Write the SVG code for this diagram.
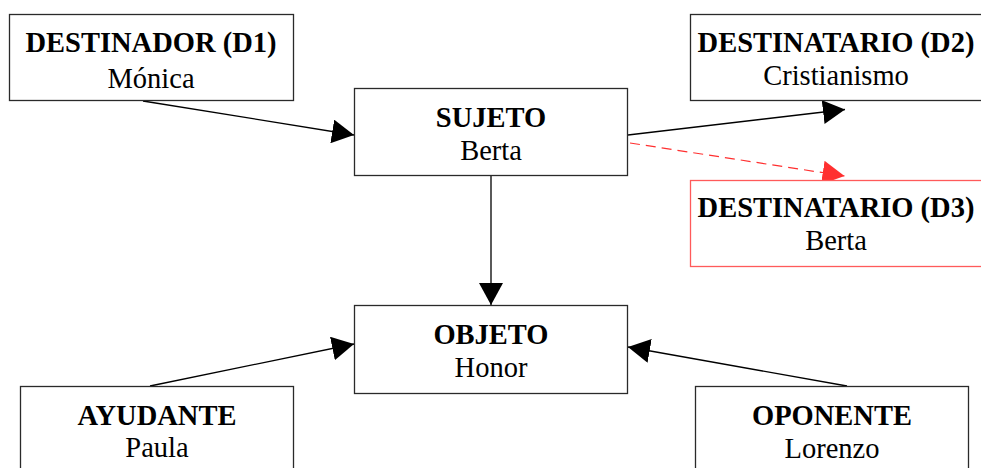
<svg xmlns="http://www.w3.org/2000/svg" width="981" height="468" viewBox="0 0 981 468">
  <style>
    .box { fill: #ffffff; stroke: #2a2a2a; stroke-width: 1.3; }
    .box-alt { fill: #ffffff; stroke: #ff5a5a; stroke-width: 1.3; }
    .title { font-family: "Liberation Serif", "Times New Roman", serif; font-weight: bold; font-size: 28.5px; text-anchor: middle; fill: #000; }
    .name { font-family: "Liberation Serif", "Times New Roman", serif; font-size: 28.5px; text-anchor: middle; fill: #000; }
    .link { fill: none; stroke: #000; stroke-width: 1.3; }
    .link-alt { fill: none; stroke: #ff3030; stroke-width: 1.2; stroke-dasharray: 10 6; }
  </style>
  <defs>
    <marker id="head" viewBox="0 0 22 24" refX="22" refY="12" markerWidth="22" markerHeight="24" markerUnits="userSpaceOnUse" orient="auto">
      <path d="M0,0 L22,12 L0,24 z" fill="#000"/>
    </marker>
    <marker id="head-alt" viewBox="0 0 22 24" refX="22" refY="12" markerWidth="22" markerHeight="24" markerUnits="userSpaceOnUse" orient="auto">
      <path d="M0,0 L22,12 L0,24 z" fill="#ff3030"/>
    </marker>
  </defs>

  <rect width="981" height="468" fill="#ffffff"/>

  <g id="connectors">
    <line class="link" x1="143" y1="101" x2="354" y2="135" marker-end="url(#head)"/>
    <line class="link" x1="628" y1="135" x2="845" y2="109.5" marker-end="url(#head)"/>
    <line class="link-alt" x1="630" y1="143" x2="844.5" y2="176" marker-end="url(#head-alt)"/>
    <line class="link" x1="491" y1="176" x2="491" y2="305" marker-end="url(#head)"/>
    <line class="link" x1="150" y1="386" x2="354" y2="344" marker-end="url(#head)"/>
    <line class="link" x1="847" y1="386" x2="628" y2="347" marker-end="url(#head)"/>
  </g>

  <g id="destinador">
    <rect class="box" x="9.5" y="14.5" width="284" height="86"/>
    <text class="title" x="151" y="51.5">DESTINADOR (D1)</text>
    <text class="name" x="151" y="88">Mónica</text>
  </g>

  <g id="destinatario-d2">
    <rect class="box" x="690.5" y="14.5" width="300" height="86"/>
    <text class="title" x="836" y="51.5">DESTINATARIO (D2)</text>
    <text class="name" x="836" y="85">Cristianismo</text>
  </g>

  <g id="sujeto">
    <rect class="box" x="354.5" y="88.5" width="273" height="87"/>
    <text class="title" x="491" y="126.5">SUJETO</text>
    <text class="name" x="491" y="159.5">Berta</text>
  </g>

  <g id="destinatario-d3">
    <rect class="box-alt" x="690.5" y="180.5" width="300" height="86"/>
    <text class="title" x="836" y="216.5">DESTINATARIO (D3)</text>
    <text class="name" x="836" y="250">Berta</text>
  </g>

  <g id="objeto">
    <rect class="box" x="354.5" y="305.5" width="273" height="88"/>
    <text class="title" x="491" y="343.5">OBJETO</text>
    <text class="name" x="491" y="376.5">Honor</text>
  </g>

  <g id="ayudante">
    <rect class="box" x="20.5" y="386.5" width="273" height="100"/>
    <text class="title" x="157" y="424.5">AYUDANTE</text>
    <text class="name" x="157" y="457">Paula</text>
  </g>

  <g id="oponente">
    <rect class="box" x="695.5" y="386.5" width="273" height="100"/>
    <text class="title" x="832" y="424.5">OPONENTE</text>
    <text class="name" x="832" y="458">Lorenzo</text>
  </g>
</svg>
